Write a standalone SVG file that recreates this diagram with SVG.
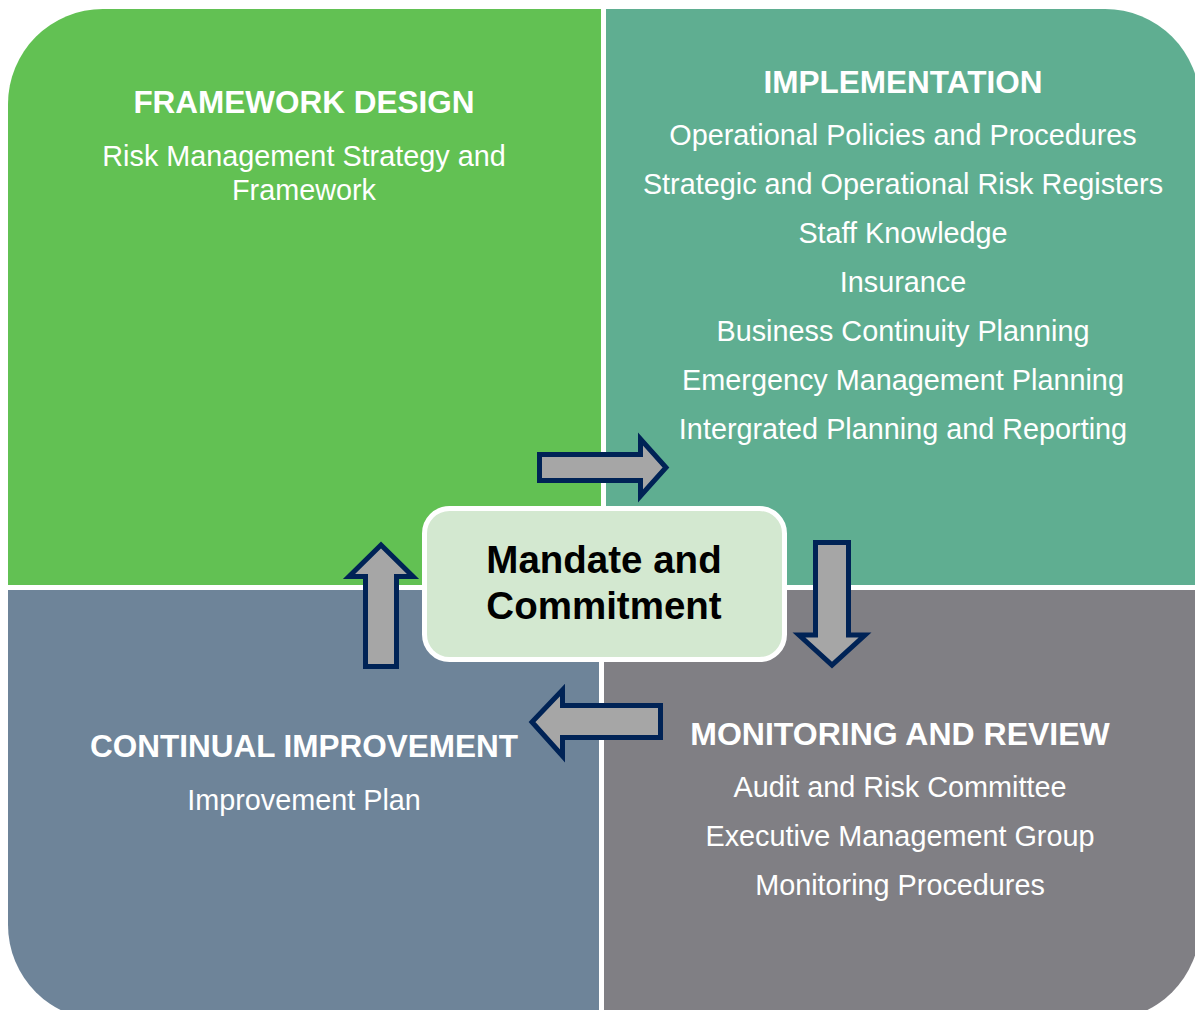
<svg xmlns="http://www.w3.org/2000/svg" width="1195" height="1010" viewBox="0 0 1195 1010">
<style>
text{font-family:"Liberation Sans",Arial,sans-serif;fill:#ffffff;text-anchor:middle}
.t{font-weight:bold;font-size:31.5px}
.b{font-size:28.8px}
.c{font-weight:bold;font-size:38.5px;fill:#000000}
.arr{fill:#a6a6a6;stroke:#002356;stroke-width:5;stroke-linejoin:miter}
</style>
<rect x="0" y="0" width="1195" height="1010" fill="#ffffff"/>
<g id="framework-design">
<path d="M8,585 V104 A95,95 0 0 1 103,9 H601 V585 Z" fill="#62c153"/>
<text class="t" x="304" y="113">FRAMEWORK DESIGN</text>
<text class="b" x="304" y="166">Risk Management Strategy and</text>
<text class="b" x="304" y="200">Framework</text>
</g>
<g id="implementation">
<path d="M606,585 V9 H1105 A95,95 0 0 1 1200,104 V585 Z" fill="#5fae91"/>
<text class="t" x="903" y="93">IMPLEMENTATION</text>
<text class="b" x="903" y="145">Operational Policies and Procedures</text>
<text class="b" x="903" y="194">Strategic and Operational Risk Registers</text>
<text class="b" x="903" y="243">Staff Knowledge</text>
<text class="b" x="903" y="292">Insurance</text>
<text class="b" x="903" y="341">Business Continuity Planning</text>
<text class="b" x="903" y="390">Emergency Management Planning</text>
<text class="b" x="903" y="439">Intergrated Planning and Reporting</text>
</g>
<g id="continual-improvement">
<path d="M8,590 H599 V1020 H103 A95,95 0 0 1 8,925 Z" fill="#6e8499"/>
<text class="t" x="304" y="757">CONTINUAL IMPROVEMENT</text>
<text class="b" x="304" y="810">Improvement Plan</text>
</g>
<g id="monitoring-review">
<path d="M604,590 H1200 V925 A95,95 0 0 1 1105,1020 H604 Z" fill="#807f84"/>
<text class="t" x="900" y="745" style="font-size:32px">MONITORING AND REVIEW</text>
<text class="b" x="900" y="797">Audit and Risk Committee</text>
<text class="b" x="900" y="846">Executive Management Group</text>
<text class="b" x="900" y="895">Monitoring Procedures</text>
</g>
<g id="connectors">
<path class="arr" d="M539.5,454.5 H640.5 V439 L666,467.5 L640.5,496 V480.5 H539.5 Z"/>
<path class="arr" d="M815.5,542.5 H848.5 V635 H865 L832,665 L799,635 H815.5 Z"/>
<path class="arr" d="M660.5,705.5 H562.5 V690 L532,722 L562.5,756 V737.5 H660.5 Z"/>
<path class="arr" d="M365.5,666.5 V576.5 H349 L381,545 L413,576.5 H396.5 V666.5 Z"/>
</g>
<g id="mandate-commitment">
<rect x="424.5" y="508.5" width="360" height="151" rx="25" ry="25" fill="#d3e8d0" stroke="#ffffff" stroke-width="5"/>
<text class="c" x="604" y="573">Mandate and</text>
<text class="c" x="604" y="619">Commitment</text>
</g>
</svg>
